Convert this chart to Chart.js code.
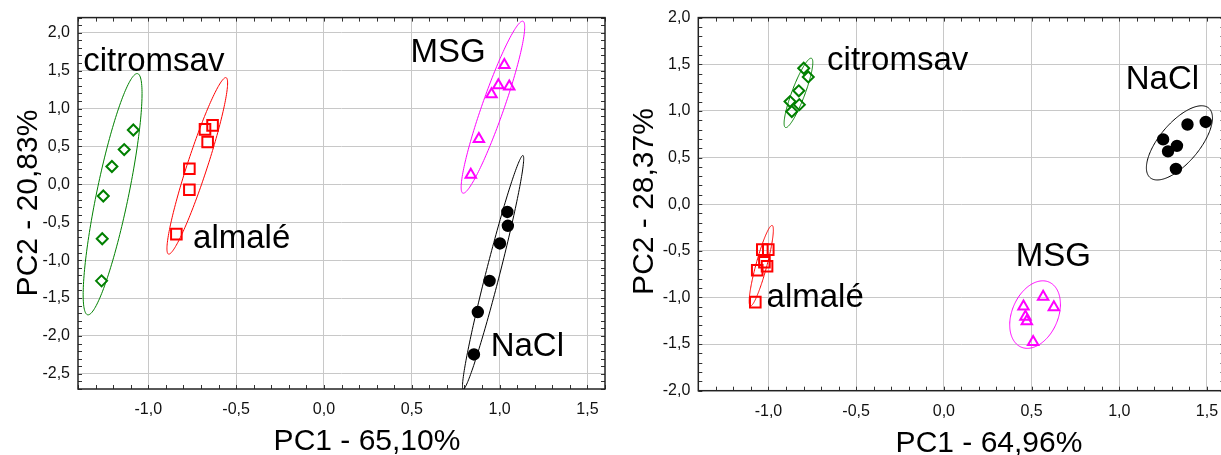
<!DOCTYPE html>
<html><head><meta charset="utf-8">
<script src="https://cdn.jsdelivr.net/npm/chart.js@4/dist/chart.umd.min.js"></script>
<style>
html,body{margin:0;padding:0;background:#fff;overflow:hidden;width:1221px;height:455px}
#c1{position:absolute;left:0;top:0}
#c2{position:absolute;left:620px;top:0}
</style></head><body>
<canvas id="c1" width="620" height="455"></canvas>
<canvas id="c2" width="620" height="455"></canvas>
<script>
// ---------- DATA ----------
const categories = ['citromsav', 'almalé', 'MSG', 'NaCl'];

// Left panel (PC1 65,10% / PC2 20,83%)
const L_citromsav_x = [-1.256, -1.207, -1.137, -1.085, -1.262, -1.266];
const L_citromsav_y = [-0.154, 0.236, 0.459, 0.717, -0.718, -1.273];
const L_almale_x = [-0.766, -0.766, -0.677, -0.634, -0.662, -0.840];
const L_almale_y = [0.205, -0.071, 0.726, 0.778, 0.559, -0.656];
const L_msg_x = [1.027, 0.993, 1.055, 0.954, 0.882, 0.836];
const L_msg_y = [1.575, 1.307, 1.290, 1.190, 0.598, 0.126];
const L_nacl_x = [1.044, 1.047, 1.002, 0.943, 0.876, 0.854];
const L_nacl_y = [-0.364, -0.547, -0.780, -1.273, -1.685, -2.244];

// Right panel (PC1 64,96% / PC2 28,37%)
const R_citromsav_x = [-0.799, -0.773, -0.827, -0.877, -0.824, -0.867];
const R_citromsav_y = [1.457, 1.364, 1.215, 1.100, 1.067, 0.993];
const R_almale_x = [-1.001, -1.035, -1.023, -1.008, -1.064, -1.075];
const R_almale_y = [-0.487, -0.487, -0.623, -0.666, -0.708, -1.050];
const R_msg_x = [0.566, 0.627, 0.454, 0.465, 0.473, 0.509];
const R_msg_y = [-0.994, -1.104, -1.096, -1.207, -1.255, -1.478];
const R_nacl_x = [1.250, 1.329, 1.278, 1.389, 1.493, 1.323];
const R_nacl_y = [0.694, 0.625, 0.566, 0.854, 0.881, 0.378];

// Confidence ellipses in data units: [centerX, centerY, axis1EndX, axis1EndY, axis2EndX, axis2EndY]
const L_ellipses = [
  [-1.203, -0.130, -1.061, 1.461, -1.114, -0.172],
  [-0.721, 0.244, -0.557, 1.408, -0.667, 0.203],
  [0.962, 1.018, 1.133, 2.152, 1.021, 0.971],
  [0.963, -1.161, 1.133, 0.381, 1.001, -1.184]
];
const R_ellipses = [
  [-0.829, 1.193, -0.755, 1.564, -0.794, 1.169],
  [-1.041, -0.660, -0.979, -0.228, -1.011, -0.675],
  [0.520, -1.184, 0.599, -0.835, 0.641, -1.280],
  [1.343, 0.657, 1.510, 1.030, 1.430, 0.519]
];

// Group label anchor points (data units)
const L_labelPos = [[-1.370, 1.50], [-0.745, -0.845], [0.493, 1.614], [0.949, -2.266]];
const R_labelPos = [[-0.666, 1.439], [-1.011, -1.107], [0.410, -0.666], [1.037, 1.233]];

// Axes
const xRange = [-1.4, 1.6];
const L_yRange = [-2.7, 2.2];
const R_yRange = [-2.0, 2.0];
const xTicks = [-1.0, -0.5, 0.0, 0.5, 1.0, 1.5];
const L_yTicks = [-2.5, -2.0, -1.5, -1.0, -0.5, 0.0, 0.5, 1.0, 1.5, 2.0];
const R_yTicks = [-2.0, -1.5, -1.0, -0.5, 0.0, 0.5, 1.0, 1.5, 2.0];
const L_xTitle = 'PC1 - 65,10%', L_yTitle = 'PC2 - 20,83%';
const R_xTitle = 'PC1 - 64,96%', R_yTitle = 'PC2 - 28,37%';

// ---------- STYLE ----------
const FONT = "'Liberation Sans', Arial, Helvetica, sans-serif";
Chart.defaults.font.family = FONT;
const groupStyle = [
  {color: '#008000', style: 'rectRot', r: 5.5, fill: 'rgba(0,0,0,0)'},
  {color: '#ff0000', style: 'rect', r: 7.5, fill: 'rgba(0,0,0,0)'},
  {color: '#ff00ff', style: 'triangle', r: 6, fill: 'rgba(0,0,0,0)'},
  {color: '#000000', style: 'circle', r: 5.2, fill: '#000000'}
];

function zip(xs, ys) { return xs.map((x, i) => ({x: x, y: ys[i]})); }
const fmt = v => Number(v).toFixed(1).replace('.', ',');

function makeChart(id, series, ellipses, labelPos, yRange, yTicks, cfg) {
  const decor = {
    id: 'decor',
    beforeDatasetsDraw(chart) {
      const ctx = chart.ctx, a = chart.chartArea, xs = chart.scales.x, ys = chart.scales.y;
      ctx.save();
      // minor ticks (0.1 step), inward
      ctx.strokeStyle = '#333'; ctx.lineWidth = 1;
      ctx.beginPath();
      for (let i = Math.ceil(xRange[0] * 10); i <= Math.floor(xRange[1] * 10); i++) {
        const px = Math.round(xs.getPixelForValue(i / 10)) + 0.5;
        ctx.moveTo(px, a.bottom); ctx.lineTo(px, a.bottom - 4);
        ctx.moveTo(px, a.top); ctx.lineTo(px, a.top + 4);
      }
      for (let i = Math.ceil(yRange[0] * 10); i <= Math.floor(yRange[1] * 10); i++) {
        const py = Math.round(ys.getPixelForValue(i / 10)) + 0.5;
        ctx.moveTo(a.left, py); ctx.lineTo(a.left + 4, py);
        ctx.moveTo(a.right, py); ctx.lineTo(a.right - 4, py);
      }
      ctx.stroke();
      // frame
      ctx.strokeStyle = '#222'; ctx.lineWidth = 1.5;
      ctx.strokeRect(a.left, a.top, a.right - a.left, a.bottom - a.top);
      // ellipses
      ctx.beginPath(); ctx.rect(a.left, a.top, a.right - a.left, a.bottom - a.top); ctx.clip();
      ellipses.forEach((e, k) => {
        const cx = xs.getPixelForValue(e[0]), cy = ys.getPixelForValue(e[1]);
        const ax = xs.getPixelForValue(e[2]) - cx, ay = ys.getPixelForValue(e[3]) - cy;
        const bx = xs.getPixelForValue(e[4]) - cx, by = ys.getPixelForValue(e[5]) - cy;
        ctx.beginPath();
        for (let i = 0; i <= 180; i++) {
          const t = i / 180 * 2 * Math.PI, c = Math.cos(t), s = Math.sin(t);
          const px = cx + ax * c + bx * s, py = cy + ay * c + by * s;
          if (i === 0) ctx.moveTo(px, py); else ctx.lineTo(px, py);
        }
        ctx.closePath();
        ctx.strokeStyle = groupStyle[k].color; ctx.lineWidth = 1;
        ctx.stroke();
      });
      ctx.restore();
    },
    afterDraw(chart) {
      const ctx = chart.ctx, xs = chart.scales.x, ys = chart.scales.y;
      ctx.save();
      ctx.fillStyle = '#000';
      ctx.font = '33px ' + FONT;
      ctx.textAlign = 'left'; ctx.textBaseline = 'alphabetic';
      categories.forEach((name, k) => {
        ctx.fillText(name, xs.getPixelForValue(labelPos[k][0]), ys.getPixelForValue(labelPos[k][1]));
      });
      ctx.font = '30px ' + FONT;
      ctx.textAlign = 'center';
      ctx.fillText(cfg.xTitle, cfg.xTitlePos[0], cfg.xTitlePos[1]);
      ctx.translate(cfg.yTitlePos[0], cfg.yTitlePos[1]);
      ctx.rotate(-Math.PI / 2);
      ctx.fillText(cfg.yTitle, 0, 0);
      ctx.restore();
    }
  };

  return new Chart(document.getElementById(id), {
    type: 'scatter',
    data: {
      datasets: series.map((s, k) => ({
        label: categories[k],
        data: zip(s[0], s[1]),
        pointStyle: groupStyle[k].style,
        pointRadius: groupStyle[k].r,
        pointHoverRadius: groupStyle[k].r,
        borderColor: groupStyle[k].color,
        backgroundColor: groupStyle[k].fill,
        pointBorderWidth: 2,
        borderWidth: 2,
        showLine: false
      }))
    },
    options: {
      responsive: false,
      animation: false,
      events: [],
      layout: {padding: {top: cfg.top, right: cfg.right, left: 0, bottom: 0}},
      plugins: {legend: {display: false}, tooltip: {enabled: false}},
      scales: {
        x: {
          type: 'linear', min: xRange[0], max: xRange[1],
          afterBuildTicks: s => { s.ticks = xTicks.map(v => ({value: v})); },
          afterFit: s => { s.height = cfg.bottomH; },
          ticks: {callback: fmt, font: {size: 16}, color: '#111', padding: 11, maxRotation: 0, autoSkip: false},
          grid: {color: '#c8c8c8', lineWidth: 1, drawTicks: false},
          border: {display: false}
        },
        y: {
          type: 'linear', min: yRange[0], max: yRange[1],
          afterBuildTicks: s => { s.ticks = yTicks.map(v => ({value: v})); },
          afterFit: s => { s.width = cfg.leftW; },
          ticks: {callback: fmt, font: {size: 16}, color: '#111', padding: 8, autoSkip: false},
          grid: {color: '#c8c8c8', lineWidth: 1, drawTicks: false},
          border: {display: false}
        }
      }
    },
    plugins: [decor]
  });
}

makeChart('c1',
  [[L_citromsav_x, L_citromsav_y], [L_almale_x, L_almale_y], [L_msg_x, L_msg_y], [L_nacl_x, L_nacl_y]],
  L_ellipses, L_labelPos, L_yRange, L_yTicks,
  {top: 15, right: 15, leftW: 78, bottomH: 66, xTitle: L_xTitle, yTitle: L_yTitle,
   xTitlePos: [367, 450], yTitlePos: [37, 203]});

makeChart('c2',
  [[R_citromsav_x, R_citromsav_y], [R_almale_x, R_almale_y], [R_msg_x, R_msg_y], [R_nacl_x, R_nacl_y]],
  R_ellipses, R_labelPos, R_yRange, R_yTicks,
  {top: 16, right: 15.5, leftW: 78.3, bottomH: 64.3, xTitle: R_xTitle, yTitle: R_yTitle,
   xTitlePos: [369, 452], yTitlePos: [33, 201.5]});
</script>
</body></html>
